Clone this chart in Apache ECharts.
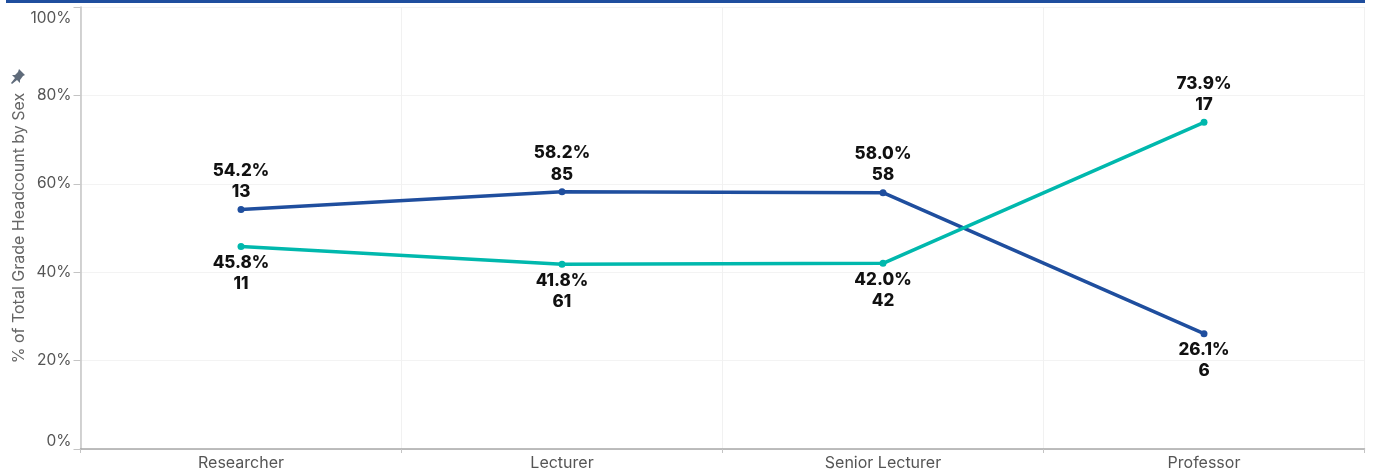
<!DOCTYPE html>
<html><head><meta charset="utf-8">
<style>html,body{margin:0;padding:0;background:#fff}#c{width:1376px;height:475px}</style>
<script src="https://cdn.jsdelivr.net/npm/echarts@6/dist/echarts.min.js"></script>
</head><body><div id="c"></div>
<script>
const categories = ['Researcher','Lecturer','Senior Lecturer','Professor'];
const bluePct = [54.2,58.2,58.0,26.1];
const blueCount = [13,85,58,6];
const tealPct = [45.8,41.8,42.0,73.9];
const tealCount = [11,61,42,17];
const axisTitle = '% of Total Grade Headcount by Sex';
const BLUE='#1f4e9e', TEAL='#00b8ad';
const FONT='Inter, "Open Sans", sans-serif';

function seriesData(pct,count,other){
  return pct.map((v,i)=>({
    value:v,
    label:{
      position:v>other[i]?'top':'bottom',
      distance:v>other[i]?3:2,
      formatter:v.toFixed(1)+'%\n'+count[i]
    }
  }));
}
function line(name,color,pct,count,other){
  return {
    name,type:'line',data:seriesData(pct,count,other),
    symbol:'circle',symbolSize:7,showSymbol:true,
    lineStyle:{color,width:3.5},itemStyle:{color},
    label:{show:true,color:'#111',fontFamily:FONT,fontWeight:800,fontSize:17,lineHeight:21.5},
    emphasis:{disabled:true},animation:false
  };
}
const chart=echarts.init(document.getElementById('c'),null,{renderer:'canvas'});
chart.setOption({
  animation:false,
  grid:{left:80.5,right:11.5,top:7,bottom:26,containLabel:false,outerBoundsMode:'none'},
  xAxis:{
    type:'category',data:categories,boundaryGap:true,
    axisLine:{show:true,lineStyle:{color:'#a8a8a8',width:1.5}},
    axisTick:{show:true,alignWithLabel:false,length:4,lineStyle:{color:'#c4c4c4'}},
    splitLine:{show:true,lineStyle:{color:'#f1f1f1'}},
    axisLabel:{color:'#555',fontFamily:FONT,fontSize:16,margin:6,interval:0}
  },
  yAxis:{
    type:'value',min:0,max:100,interval:20,
    name:axisTitle,nameLocation:'middle',nameGap:53,nameRotate:90,nameMoveOverlap:false,
    nameTextStyle:{color:'#666',fontFamily:FONT,fontSize:16},
    axisLine:{show:true,onZero:false,lineStyle:{color:'#c4c4c4',width:1.5}},
    axisTick:{show:true,length:7,lineStyle:{color:'#c4c4c4'}},
    splitLine:{show:true,lineStyle:{color:'#f3f3f3'}},
    axisLabel:{color:'#555',fontFamily:FONT,fontSize:15.5,margin:9,
      formatter:v=>v===100?'{max|'+v+'%}':v+'%',
      rich:{max:{color:'#555',fontFamily:FONT,fontSize:15.5,padding:[3,0,0,0]}},
      verticalAlignMinLabel:'bottom',verticalAlignMaxLabel:'top'}
  },
  series:[
    line('Male',BLUE,bluePct,blueCount,tealPct),
    line('Female',TEAL,tealPct,tealCount,bluePct)
  ],
  graphic:[
    {type:'rect',x:6,y:0,shape:{x:0,y:0,width:1359,height:3},style:{fill:BLUE}},
    {type:'polygon',x:11,y:69,
     shape:{points:[[8,0],[14,6],[12,7],[9,11],[9,14],[6,11],[1,15],[0,14],[4,9],[1,6],[4,6],[7,3]]},
     style:{fill:'#5f6b7a'}}
  ]
});
</script></body></html>
